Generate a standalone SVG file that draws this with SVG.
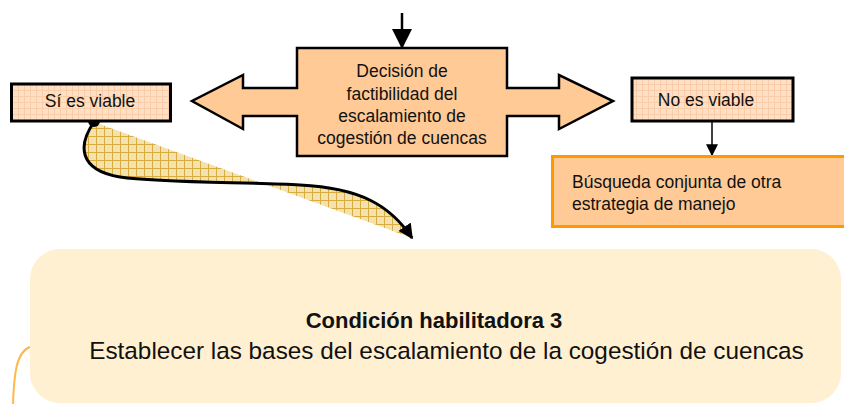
<svg xmlns="http://www.w3.org/2000/svg" width="844" height="404" viewBox="0 0 844 404">
<defs>
<pattern id="grid" width="6" height="6" patternUnits="userSpaceOnUse">
<rect width="6" height="6" fill="#FDE0C6"/>
<path d="M0,0.5H6M0.5,0V6" stroke="#FACDA8" stroke-width="1"/>
</pattern>
<pattern id="gold" width="8" height="8" patternUnits="userSpaceOnUse">
<rect width="8" height="8" fill="#F3E2AE"/>
<path d="M0,0.5H8M0.5,0V8" stroke="#D9AC40" stroke-width="1"/>
</pattern>
<marker id="ah" viewBox="0 0 10 10" refX="9" refY="5" markerWidth="5" markerHeight="5" orient="auto" markerUnits="strokeWidth">
<path d="M0,0L10,5L0,10z" fill="#000"/>
</marker>
<marker id="ah2" viewBox="0 0 10 10" refX="9" refY="5" markerWidth="8" markerHeight="8" orient="auto" markerUnits="strokeWidth">
<path d="M0,0L10,5L0,10z" fill="#000"/>
</marker>
</defs>
<style>
text{font-family:"Liberation Sans",Arial,sans-serif;fill:#111;}
.s{font-size:17.5px;}
.c{text-anchor:middle;}
.box{stroke:#000;stroke-width:3;fill:url(#grid);}
</style>

<g id="condicion">
<rect x="30" y="249" width="811" height="154" rx="30" fill="#FFF0D2"/>
<text x="434" y="328" class="c" font-size="22" font-weight="bold">Condición habilitadora 3</text>
<text x="446.5" y="359" class="c" font-size="24.3">Establecer las bases del escalamiento de la cogestión de cuencas</text>
</g>
<path d="M13,404 C14,375 16,352 30,347" fill="none" stroke="#FFB84D" stroke-width="2"/>

<g id="connectors">
<path d="M94,122 C78,145 78,170 120,177 C160,183 250,182 300,185 C360,188 390,205 412,238 Z" fill="url(#gold)" stroke="none"/>
<path d="M94,122 C78,145 78,170 120,177 C160,183 250,182 300,185 C360,188 390,205 412,238" fill="none" stroke="#000" stroke-width="3" marker-end="url(#ah)"/>
<circle cx="94" cy="121" r="6" fill="#000"/>
<line x1="402" y1="13" x2="402" y2="47" stroke="#000" stroke-width="2.5" marker-end="url(#ah2)"/>
<line x1="712" y1="122" x2="712" y2="155" stroke="#000" stroke-width="1.5" marker-end="url(#ah2)"/>
</g>

<g id="decision">
<path d="M297,48 H507 V88 H559 V75 L613,101 L559,129 V116 H507 V156 H297 V116 H243 V129 L192,101 L243,75 V88 H297 Z" fill="#FFCA96" stroke="#000" stroke-width="2.5" stroke-linejoin="miter"/>
<text x="402" y="77" class="s c">Decisión de</text>
<text x="402" y="99.5" class="s c">factibilidad del</text>
<text x="402" y="122" class="s c">escalamiento de</text>
<text x="402" y="144" class="s c">cogestión de cuencas</text>
</g>

<g id="si">
<rect x="11.5" y="84" width="159" height="37" class="box"/>
<text x="90" y="107" class="s c">Sí es viable</text>
</g>

<g id="no">
<rect x="632" y="78" width="161" height="43" class="box"/>
<text x="706" y="106" class="s c">No es viable</text>
</g>

<g id="busqueda">
<rect x="552.5" y="156.5" width="300" height="70" fill="#FFCA96" stroke="#FF9900" stroke-width="3"/>
<text x="572" y="188" class="s">Búsqueda conjunta de otra</text>
<text x="572" y="210" class="s">estrategia de manejo</text>
</g>
</svg>
